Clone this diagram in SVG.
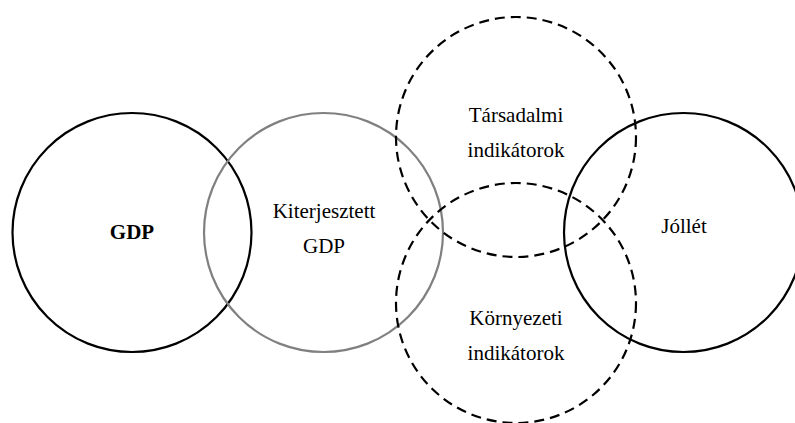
<svg xmlns="http://www.w3.org/2000/svg" width="795" height="423" viewBox="0 0 795 423">
<style>
.c{fill:none;stroke:#000;stroke-width:2.2}
.g{fill:none;stroke:#808080;stroke-width:2.2}
.d{fill:none;stroke:#000;stroke-width:2.2;stroke-dasharray:10 6}
.t{font-family:'Liberation Serif','DejaVu Serif',serif;font-size:21px;fill:#000;text-anchor:middle}
.b{font-weight:bold}
</style>
<rect width="795" height="423" fill="#fff"/>
<g id="gdp">
<circle class="c" cx="132" cy="232.5" r="119.5"/>
<text class="t b" x="132" y="239" font-family="Liberation Serif, serif">GDP</text>
</g>
<g id="kiterjesztett">
<circle class="g" cx="323.5" cy="232.5" r="119.5"/>
<text class="t" x="324" y="218" font-family="Liberation Serif, serif">Kiterjesztett</text>
<text class="t" x="324" y="253" font-family="Liberation Serif, serif">GDP</text>
</g>
<g id="tarsadalmi">
<circle class="d" cx="516" cy="137" r="120"/>
<text class="t" x="516" y="122" font-family="Liberation Serif, serif">Társadalmi</text>
<text class="t" x="516" y="157" font-family="Liberation Serif, serif">indikátorok</text>
</g>
<g id="kornyezeti">
<circle class="d" cx="516" cy="303" r="120"/>
<text class="t" x="516" y="325" font-family="Liberation Serif, serif">Környezeti</text>
<text class="t" x="516" y="360" font-family="Liberation Serif, serif">indikátorok</text>
</g>
<g id="jollet">
<circle class="c" cx="683.5" cy="232.5" r="119.5"/>
<text class="t" x="684" y="233" font-family="Liberation Serif, serif">Jóllét</text>
</g>
<g id="connectors"></g>
</svg>
